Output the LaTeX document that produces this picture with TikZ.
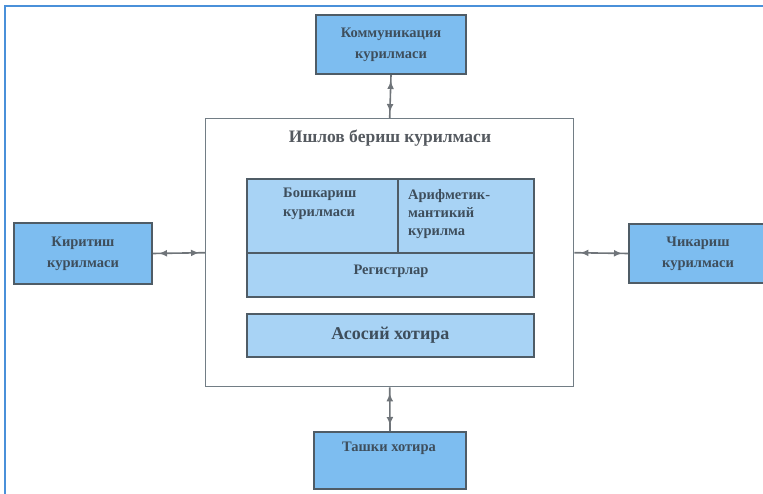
\documentclass[tikz,border=0pt]{standalone}
\usepackage{fontspec}
\setmainfont{Liberation Serif}
\usetikzlibrary{arrows.meta,decorations.markings}
\definecolor{frameblue}{HTML}{4A90D9}
\definecolor{boxblue}{HTML}{7DBDF0}
\definecolor{cellblue}{HTML}{A8D3F5}
\definecolor{edgegray}{HTML}{4F5C66}
\definecolor{txtgray}{HTML}{3E4E5C}
\definecolor{titlegray}{HTML}{555A60}
\definecolor{arrowgray}{HTML}{6F7479}
\tikzset{
  lbl/.style={text=txtgray, font=\bfseries\fontsize{14.5}{21}\selectfont},
  dev/.style={draw=edgegray, line width=2pt, fill=boxblue, anchor=north west, inner sep=0pt,
    lbl, align=center},
  cell/.style={draw=edgegray, line width=1.8pt, fill=cellblue, anchor=north west, inner sep=0pt,
    lbl, align=center},
  unit/.style={draw=edgegray!80, line width=1.4pt, fill=white, anchor=north west, inner sep=0pt},
  conn/.style={draw=arrowgray, line width=1.6pt,
    decoration={markings,
      mark=at position 6pt with {\arrowreversed{Latex[length=8pt,width=7pt]}},
      mark=at position -6pt with {\arrow{Latex[length=8pt,width=7pt]}}},
    postaction=decorate}
}
\begin{document}
\begin{tikzpicture}[x=1pt,y=-1pt]
\useasboundingbox (0,0) rectangle (763,494);
\clip (0,0) rectangle (763,494);
% outer frame
\draw[frameblue, line width=2.5pt] (5,494) -- (5,6) -- (763,6);
% processing unit
\node[unit, minimum width=368pt, minimum height=268pt] (main) at (205,118) {};
\node[text=titlegray, font=\bfseries\fontsize{17.5}{20}\selectfont] (title) at (390,138) {Ишлов бериш курилмаси};
% inner cells
\node[cell, minimum width=151pt, minimum height=74pt] (ctrl) at (246,178) {};
\node[lbl, align=left, anchor=north west, inner sep=0pt, font=\bfseries\fontsize{14.5}{19}\selectfont] (ctrltxt) at (283,188) {Бошкариш\\курилмаси};
\node[cell, minimum width=136pt, minimum height=74pt] (alu) at (397,178) {};
\node[lbl, align=left, anchor=north west, inner sep=0pt, font=\bfseries\fontsize{14.5}{18}\selectfont] (alutxt) at (408,189) {Арифметик-\\мантикий\\курилма};
\node[cell, minimum width=287pt, minimum height=44pt] (reg) at (246,252) {};
\node[lbl, inner sep=0pt] (regtxt) at (391,271) {Регистрлар};
\node[cell, minimum width=287pt, minimum height=43pt, font=\bfseries\fontsize{18}{20}\selectfont] (mem) at (246,313) {Асосий хотира};
% devices
\node[dev, minimum width=150pt, minimum height=59pt] (comm) at (315,14) {Коммуникация\\курилмаси};
\node[dev, minimum width=138pt, minimum height=61pt] (inp) at (13,222) {Киритиш\\курилмаси};
\node[dev, minimum width=138pt, minimum height=59pt] (out) at (628,223) {Чикариш\\курилмаси};
\node[dev, minimum width=152pt, minimum height=57pt] (ext) at (313,431) {};
\node[lbl, inner sep=0pt] (exttxt) at (389,448) {Ташки хотира};
% connectors
\draw[conn] (comm.south) -- (main.north);
\draw[conn] (main.south) -- (ext.north);
\draw[conn] (inp.east) -- (main.west);
\draw[conn] (main.east) -- (out.west);
\end{tikzpicture}
\end{document}
